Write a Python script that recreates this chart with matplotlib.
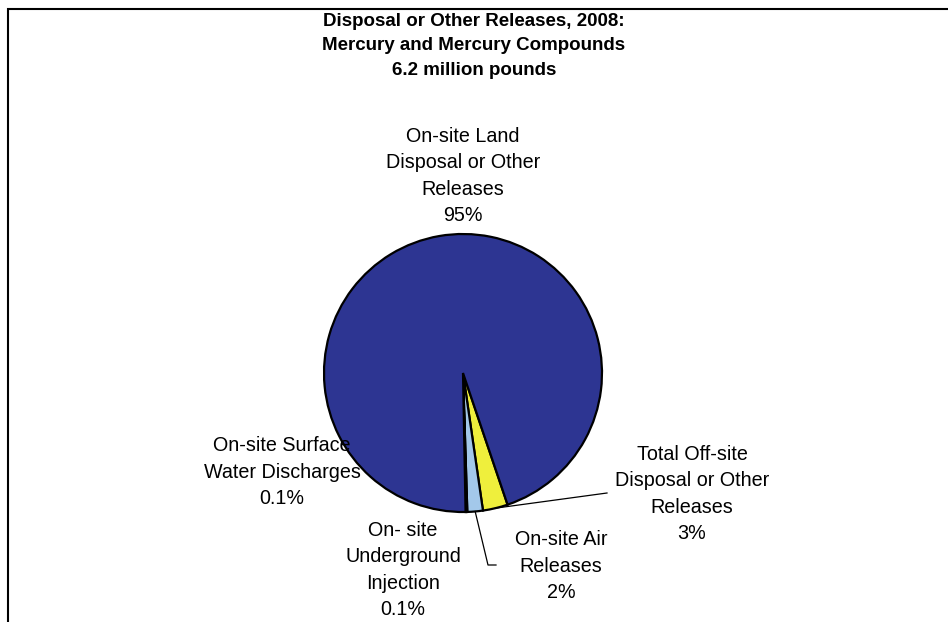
import numpy as np
import matplotlib.pyplot as plt
from matplotlib.patches import Rectangle

plt.rcParams['font.family'] = ['Liberation Sans', 'DejaVu Sans']

# slices in clockwise order starting at the right edge of the yellow slice
categories = ["Total Off-site\nDisposal or Other\nReleases",
              "On-site Air\nReleases",
              "On- site\nUnderground\nInjection",
              "On-site Surface\nWater Discharges",
              "On-site Land\nDisposal or Other\nReleases"]
shares = [2.9, 1.8, 0.1, 0.1, 95.1]
pct_labels = ["3%", "2%", "0.1%", "0.1%", "95%"]
colors = ['#EFEF3C', '#A3C8EA', '#000000', '#000000', '#2D3592']

W, H = 948, 622
fig = plt.figure(figsize=(W / 100, H / 100), dpi=100)
ax = fig.add_axes([0, 0, 1, 1])

cx, cy, R = 463, H - 373, 139
wedges, _ = ax.pie(shares, colors=colors, startangle=-71.3, counterclock=False,
                   center=(cx, cy), radius=R,
                   wedgeprops=dict(edgecolor='black', linewidth=1.6))
ax.set_xlim(0, W)
ax.set_ylim(0, H)
ax.set_aspect('equal')
ax.axis('off')

# chart frame (runs off the right and bottom edges in the original)
ax.add_patch(Rectangle((8, -20), W + 20, H - 9 + 20, fill=False,
                       edgecolor='black', linewidth=1.5))

fig.text(474 / W, 1 - 46 / H,
         "Disposal or Other Releases, 2008:\nMercury and Mercury Compounds\n6.2 million pounds",
         ha='center', va='center', fontsize=13.5, fontweight='bold', linespacing=1.6)

# label block centres in pixels (x, y from top)
label_pos = [(692, 494), (561, 566), (403, 570), (282, 472), (463, 176)]
for cat, pct, (px, py) in zip(categories, pct_labels, label_pos):
    ax.text(px, H - py, cat + "\n" + pct, ha='center', va='center',
            fontsize=14.2, linespacing=1.5)


def edge_point(w):
    mid = np.deg2rad((w.theta1 + w.theta2) / 2)
    return cx + R * np.cos(mid), cy + R * np.sin(mid)


# leader lines
x0, y0 = edge_point(wedges[0])
ax.plot([x0, 607], [y0, H - 493], color='black', linewidth=0.9)
x1, y1 = edge_point(wedges[1])
ax.plot([x1, 488, 496], [y1, H - 565, H - 565], color='black', linewidth=0.9)

fig.savefig("out.png", dpi=100)
